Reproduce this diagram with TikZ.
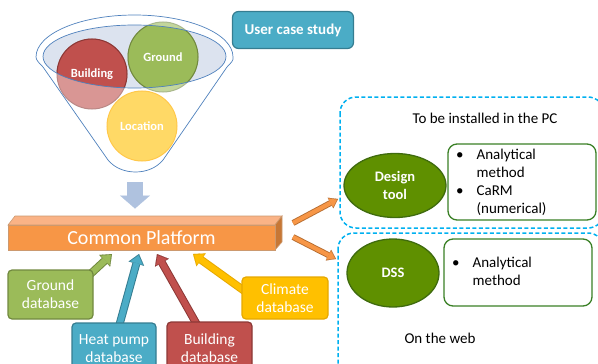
\documentclass[tikz,border=0pt]{standalone}
\usepackage{fontspec}
\setmainfont{Carlito}
\usetikzlibrary{arrows.meta,shapes.geometric}
\definecolor{funnelline}{HTML}{4F81BD}
\definecolor{lipfill}{HTML}{DCE3EF}
\definecolor{redf}{HTML}{C0504D}
\definecolor{redd}{HTML}{8C3836}
\definecolor{redl}{HTML}{D99694}
\definecolor{greenf}{HTML}{9BBB59}
\definecolor{greend}{HTML}{71893F}
\definecolor{greenl}{HTML}{C3D69B}
\definecolor{yellowc}{HTML}{FFD966}
\definecolor{yellowcd}{HTML}{FFC84A}
\definecolor{bluef}{HTML}{4BACC6}
\definecolor{blued}{HTML}{357D91}
\definecolor{goldf}{HTML}{FFC000}
\definecolor{goldd}{HTML}{E6A800}
\definecolor{orangef}{HTML}{F79646}
\definecolor{oranged}{HTML}{B66D31}
\definecolor{orangetop}{HTML}{FAB386}
\definecolor{orangeside}{HTML}{C77735}
\definecolor{downarrow}{HTML}{AFC2DF}
\definecolor{dashc}{HTML}{00B0F0}
\definecolor{olivef}{HTML}{5F9000}
\definecolor{olived}{HTML}{3F6B0E}
\definecolor{listline}{HTML}{3A8025}
\newcommand\blkarrow[4]{%
  \draw[#2, line width=8pt, -{Triangle[length=10pt,width=16pt,line width=0.1pt]}] (#3) -- (#4);
  \draw[#1, line width=6pt, shorten >=1.4pt, -{Triangle[length=8pt,width=13pt,line width=0.1pt]}] (#3) -- (#4);
}
\newcommand\thinarrow[4]{%
  \draw[#2, line width=6pt, -{Triangle[length=8.5pt,width=12pt,line width=0.1pt]}] (#3) -- (#4);
  \draw[#1, line width=4.2pt, shorten >=1.2pt, -{Triangle[length=7pt,width=9.8pt,line width=0.1pt]}] (#3) -- (#4);
}
\tikzset{
  circlabel/.style={text=white, font=\fontsize{12.5}{15}\selectfont\bfseries},
  dbbox/.style={draw=#1, line width=1.2pt, rounded corners=4pt, minimum width=85pt, align=center, text=white, font=\fontsize{15.5}{18}\selectfont},
  olivell/.style={ellipse, fill=olivef, draw=olived, line width=1.3pt, text=white, align=center, font=\fontsize{14.5}{18}\selectfont\bfseries},
  listbox/.style={draw=listline, line width=1.3pt, rounded corners=9pt, fill=white},
  dashbox/.style={draw=dashc, line width=1.5pt, dash pattern=on 4pt off 2.5pt, rounded corners=16pt},
}
\begin{document}
\begin{tikzpicture}[x=1pt,y=-1pt,font=\fontsize{15}{18}\selectfont]
\useasboundingbox (0,0) rectangle (598,364);
\clip (0,0) rectangle (598,364);
% funnel
\draw[funnelline, fill=white, line width=0.7pt] (36,57) arc[start angle=180,end angle=360,x radius=98.5,y radius=42]
  .. controls (234,60) and (231,63) .. (227,67) -- (163,160) .. controls (150,176) and (121,176) .. (108,160)
  -- (43,67) .. controls (39,63) and (36,60) .. (36,57) -- cycle;
\fill[lipfill] (134.5,56.5) ellipse[x radius=91.5, y radius=31.5];
\node[circle, minimum size=70pt, fill=redl, draw=redd!60, line width=1pt] (bld) at (92,74) {};
\node[circle, minimum size=70pt, fill=greenl, draw=greend!60, line width=1pt] (grd) at (163,57) {};
\begin{scope}
  \clip (134.5,56.5) ellipse[x radius=91.5, y radius=31.5];
  \fill[redf, draw=redd, line width=1pt] (bld.center) circle[radius=35];
  \fill[greenf, draw=greend, line width=1pt] (grd.center) circle[radius=35];
\end{scope}
\draw[funnelline, line width=0.7pt] (134.5,56.5) ellipse[x radius=91.5, y radius=31.5];
\node[circle, minimum size=70pt, fill=yellowc, draw=yellowcd, line width=1pt] (loc) at (142,126) {};
\node[circlabel] at (bld.center) {Building};
\node[circlabel] at (grd.center) {Ground};
\node[circlabel] at (loc.center) {Location};
% user case study
\node[draw=blued, fill=bluef, line width=1.2pt, rounded corners=6pt, minimum width=121pt, minimum height=37pt, text=white, font=\fontsize{15}{18}\selectfont\bfseries] (ucs) at (293,30) {User case study};
% down arrow
\coordinate (fbot) at (135,182);
\coordinate (ptop) at (135,208.5);
\draw[downarrow, line width=16pt, -{Triangle[length=13pt,width=30pt,line width=0.1pt]}] (fbot) -- (ptop);
% common platform
\fill[orangetop, draw=oranged!70, line width=0.6pt] (8,225) -- (15,216) -- (282,216) -- (275,225) -- cycle;
\fill[orangeside, draw=oranged!70, line width=0.6pt] (275,225) -- (282,216) -- (282,242) -- (275,250) -- cycle;
\node[fill=orangef, draw=oranged!70, line width=0.6pt, minimum width=267pt, minimum height=25pt, inner sep=0pt, text=white, font=\fontsize{20}{24}\selectfont] (cp) at (141.5,237.5) {Common Platform};
% arrows from databases
\coordinate (tg) at (112,254);
\coordinate (th) at (139,254);
\coordinate (tb) at (157,254);
\coordinate (tc) at (193,254);
\coordinate (sg) at (84,280);
\coordinate (sh) at (118,330);
\coordinate (sb) at (200,330);
\coordinate (sc) at (250,295);
\blkarrow{greenf}{greend}{sg}{tg}
\blkarrow{bluef}{blued}{sh}{th}
\blkarrow{redf}{redd}{sb}{tb}
\blkarrow{goldf}{goldd}{sc}{tc}
\node[dbbox=greend, fill=greenf, minimum height=49pt] (gdb) at (50.5,294.5) {Ground\\database};
\node[dbbox=blued, fill=bluef, minimum height=52pt, minimum width=84pt] (hdb) at (114,349) {Heat pump\\database};
\node[dbbox=redd, fill=redf, minimum height=52pt, minimum width=85pt] (bdb) at (209.5,348) {Building\\database};
\node[dbbox=goldd, fill=goldf, minimum height=42pt, minimum width=86pt] (cdb) at (285,298) {Climate\\database};
% dashed boxes
\draw[dashbox] (340,97) rectangle (604,228);
\draw[dashbox] (338,233) rectangle (604,385);
\node (pc) at (485,118) {To be installed in the PC};
\node (web) at (440,338) {On the web};
% orange arrows
\coordinate (o1s) at (293,223);
\coordinate (o1e) at (338,199);
\coordinate (o2s) at (293,237);
\coordinate (o2e) at (336,259);
\thinarrow{orangef}{oranged}{o1s}{o1e}
\thinarrow{orangef}{oranged}{o2s}{o2e}
% design tool
\node[olivell, minimum width=102pt, minimum height=64pt] (dt) at (395,185.5) {Design\\tool};
\node[listbox, minimum width=148pt, minimum height=76pt] (l1) at (522,182) {};
\node[anchor=west, inner sep=0pt] (l1t) at (456,183) {\begin{tabular}{@{}l@{\hspace{13pt}}l@{}}\textbullet & Analytical\\ & method\\ \textbullet & CaRM\\ & (numerical)\end{tabular}};
% dss
\node[olivell, minimum width=92pt, minimum height=68pt] (dss) at (393,273) {DSS};
\node[listbox, minimum width=148pt, minimum height=67pt] (l2) at (518,272.5) {};
\node[anchor=west, inner sep=0pt] (l2t) at (452,273) {\begin{tabular}{@{}l@{\hspace{13pt}}l@{}}\textbullet & Analytical\\ & method\end{tabular}};
\end{tikzpicture}
\end{document}
